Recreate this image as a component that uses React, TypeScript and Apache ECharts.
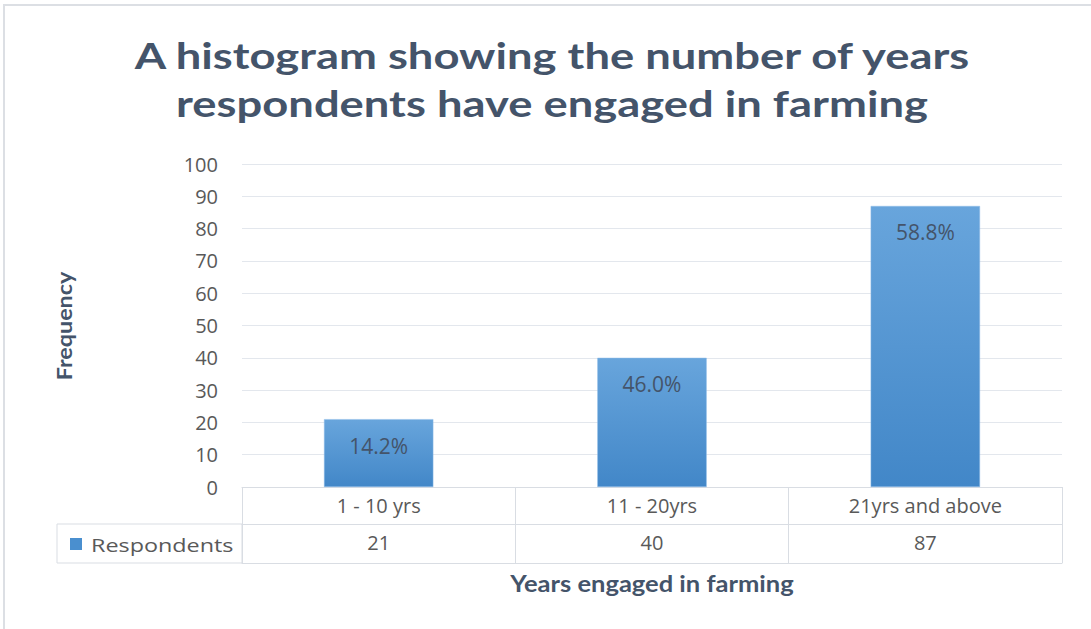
import React, { useEffect, useRef } from "react";
import * as echarts from "echarts";

const categories = ["1 - 10 yrs", "11 - 20yrs", "21yrs and above"];
const respondents = [21, 40, 87];
const percentLabels = ["14.2%", "46.0%", "58.8%"];
const seriesName = "Respondents";
const titleLines = ["A histogram showing the number of years", "respondents have engaged in farming"];
const xAxisTitle = "Years engaged in farming";
const yAxisTitle = "Frequency";
const yTicks = { min: 0, max: 100, interval: 10 };

const FONT = "Lato, 'Open Sans', sans-serif";
const WIDE = "'Open Sans', Lato, sans-serif";
const TEXT = "#595959";
const DARK = "#44546a";
const LINE = "#d9dde3";

export default function App() {
  const ref = useRef<HTMLDivElement>(null);
  useEffect(() => {
    if (!ref.current) return;
    const chart = echarts.init(ref.current, undefined, { renderer: "svg" });
    const gridLeft = 242;
    const gridRight = 29;
    const gridTop = 164;
    const gridBottom = 142;
    const rowH = 37;
    const plotBottom = 629 - gridBottom;
    chart.setOption({
      animation: false,
      backgroundColor: "#ffffff",
      grid: { left: gridLeft, right: gridRight, top: gridTop, bottom: gridBottom },
      xAxis: [
        {
          type: "category",
          data: categories,
          position: "bottom",
          axisLine: { show: true, lineStyle: { color: LINE, width: 1 } },
          axisTick: { show: true, length: rowH, lineStyle: { color: LINE } },
          axisLabel: { fontFamily: WIDE, fontSize: 20, color: TEXT, margin: 8 },
        },
        {
          type: "category",
          data: respondents.map(String),
          position: "bottom",
          offset: rowH,
          axisLine: { show: true, lineStyle: { color: LINE, width: 1 } },
          axisTick: { show: true, length: rowH + 2, lineStyle: { color: LINE } },
          axisLabel: { fontFamily: WIDE, fontSize: 20, color: TEXT, margin: 8 },
        },
        {
          type: "category",
          data: categories,
          position: "bottom",
          offset: rowH * 2 + 2,
          axisLine: { show: true, lineStyle: { color: LINE, width: 1 } },
          axisTick: { show: false },
          axisLabel: { show: false },
        },
      ],
      yAxis: {
        type: "value",
        min: yTicks.min,
        max: yTicks.max,
        interval: yTicks.interval,
        axisLine: { show: false },
        axisTick: { show: false },
        splitLine: { lineStyle: { color: "#e3e7ed", width: 1 } },
        axisLabel: { fontFamily: WIDE, fontSize: 20, color: TEXT, margin: 24 },
      },
      series: [
        {
          type: "bar",
          name: seriesName,
          data: respondents,
          barWidth: "40%",
          itemStyle: {
            color: new echarts.graphic.LinearGradient(0, 0, 0, 1, [
              { offset: 0, color: "#68a5dc" },
              { offset: 1, color: "#4287c8" },
            ]),
            borderColor: "#8fbde8",
            borderWidth: 0.5,
          },
          label: {
            show: true,
            position: "insideTop",
            distance: 16,
            fontFamily: WIDE,
            fontSize: 21,
            color: DARK,
            formatter: (p: any) => percentLabels[p.dataIndex],
          },
        },
      ],
      graphic: [
        {
          type: "rect",
          shape: { x: 4, y: 5, width: 1200, height: 700 },
          style: { fill: "none", stroke: "#dcdfe4", lineWidth: 2 },
          silent: true,
        },
        ...titleLines.map((t, i) => ({
          type: "text",
          x: 552,
          y: 55 + i * 48,
          scaleX: 1.26,
          style: {
            text: t,
            fontFamily: FONT,
            fontWeight: "bold",
            fontSize: 36,
            fill: DARK,
            align: "center",
            verticalAlign: "middle",
          },
        })),
        {
          type: "text",
          x: 652,
          y: 583,
          scaleX: 1.16,
          style: {
            text: xAxisTitle,
            fontFamily: FONT,
            fontWeight: "bold",
            fontSize: 22,
            fill: DARK,
            align: "center",
            verticalAlign: "middle",
          },
        },
        {
          type: "text",
          x: 64,
          y: 326,
          rotation: Math.PI / 2,
          scaleX: 1.11,
          style: {
            text: yAxisTitle,
            fontFamily: FONT,
            fontWeight: "bold",
            fontSize: 21,
            fill: DARK,
            align: "center",
            verticalAlign: "middle",
          },
        },
        {
          type: "rect",
          shape: { x: 57, y: plotBottom + rowH, width: gridLeft - 57, height: rowH + 2 },
          style: { fill: "none", stroke: LINE, lineWidth: 1 },
          silent: true,
        },
        {
          type: "rect",
          shape: { x: 70, y: plotBottom + rowH + 14, width: 12, height: 12 },
          style: { fill: "#4a8fcf" },
          silent: true,
        },
        {
          type: "text",
          x: 91,
          y: plotBottom + rowH + 20,
          scaleX: 1.23,
          style: {
            text: seriesName,
            fontFamily: WIDE,
            fontSize: 19,
            fill: TEXT,
            verticalAlign: "middle",
            align: "left",
          },
        },
      ],
    });
    return () => chart.dispose();
  }, []);
  return (
    <div
      ref={ref}
      style={{ position: "fixed", left: 0, top: 0, width: 1091, height: 629 }}
    />
  );
}
